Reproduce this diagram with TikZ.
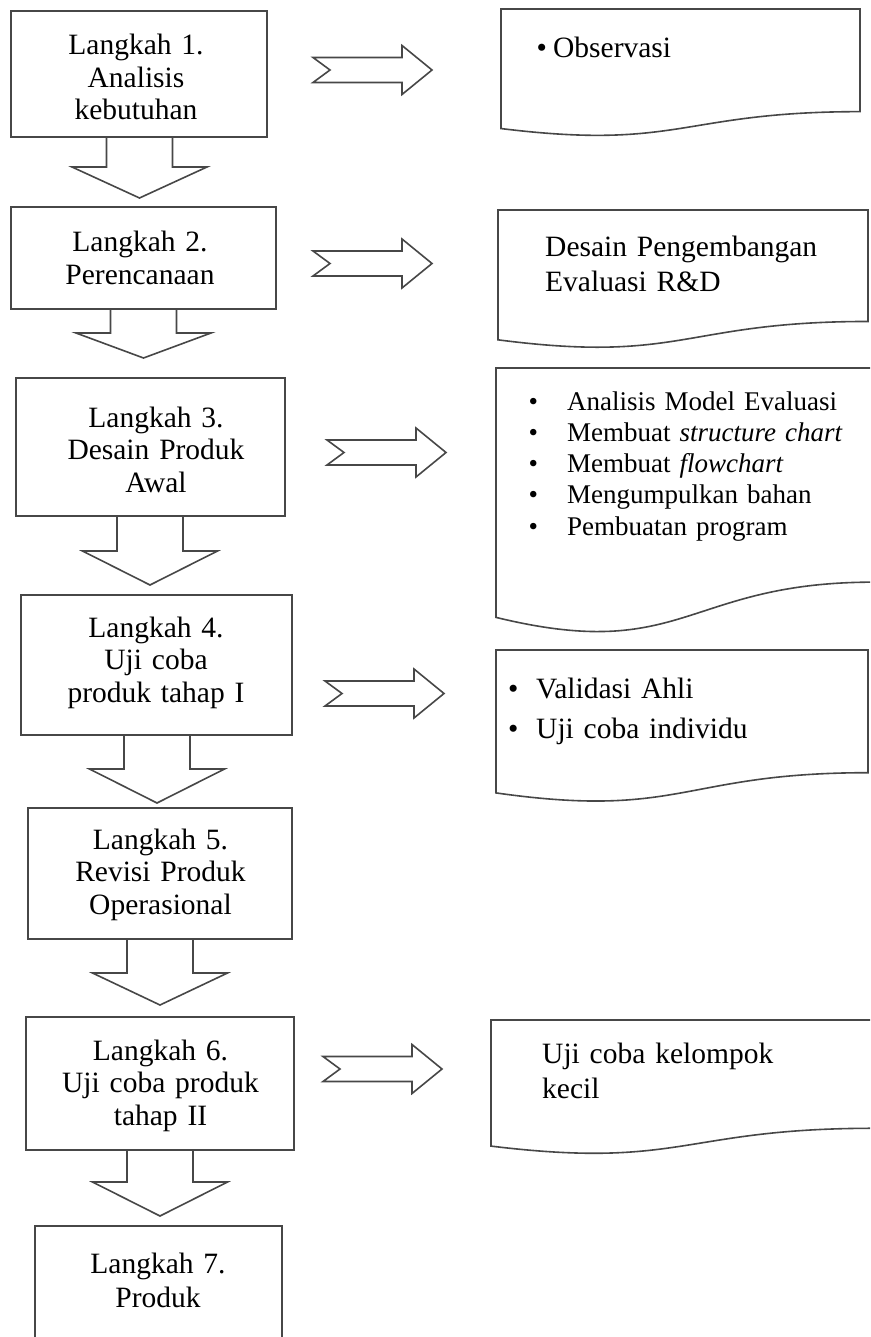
\documentclass[tikz,border=0pt]{standalone}
\usepackage{fontspec}
\setmainfont{Liberation Serif}
\usetikzlibrary{calc}
\tikzset{
  shapeline/.style={draw=black!72, line width=1.6pt, line join=miter},
  stepbox/.style={shapeline, rectangle, inner sep=0pt, outer sep=0pt},
  steptext/.style={inner sep=0pt, anchor=base, text width=260pt, align=center, text=black,
    font=\fontsize{29.5}{32.5}\selectfont},
  docframe/.style={rectangle, inner sep=0pt, outer sep=0pt},
  doctext/.style={inner sep=0pt, anchor=base west, text width=#1, align=left, text=black,
    font=\fontsize{29.5}{35}\selectfont},
  doctext/.default=330pt,
  rarrow/.pic={\draw[shapeline] (0,-12.5) -- (89,-12.5) -- (89,-24.5) -- (119,0) -- (89,24.5) -- (89,12.5) -- (0,12.5) -- (17,0) -- cycle;},
}
% #1 source node, #2 x offset of arrow centre, #3 shaft length, #4 head length
\newcommand\blockdown[4]{%
  \draw[shapeline] ($(#1.south)+(#2-33,0)$) -- ++(0,#3) -- ++(-34.5,0)
    -- ($(#1.south)+(#2,#3+#4)$) -- ($(#1.south)+(#2+67.5,#3)$) -- ++(-34.5,0)
    -- ($(#1.south)+(#2+33,0)$);}
% document shape drawn on a frame node
\newcommand\docshape[1]{%
  \draw[shapeline] (#1.north west) -- (#1.north east)
    -- ($(#1.north east)!0.802!(#1.south east)$)
    .. controls ($(#1.north)!0.802!(#1.south)$) and ($(#1.north)!1.107!(#1.south)$)
    .. ($(#1.north west)!0.934!(#1.south west)$) -- cycle;}
\begin{document}
\begin{tikzpicture}[x=1pt,y=-1pt]
\useasboundingbox (0,0) rectangle (870,1337);
\fill[white] (0,0) rectangle (870,1337);
\clip (0,0) rectangle (870,1337);

% step boxes
\node[stepbox, minimum width=256pt, minimum height=126pt] (s1) at (139,74) {};
\node[stepbox, minimum width=265pt, minimum height=102pt] (s2) at (143.5,258) {};
\node[stepbox, minimum width=269pt, minimum height=138pt] (s3) at (150.5,447) {};
\node[stepbox, minimum width=271pt, minimum height=140pt] (s4) at (156.5,665) {};
\node[stepbox, minimum width=264pt, minimum height=131pt] (s5) at (160,873.5) {};
\node[stepbox, minimum width=268pt, minimum height=133pt] (s6) at (160,1083.5) {};
\node[stepbox, minimum width=247pt, minimum height=130pt] (s7) at (158.5,1291) {};

\node[steptext] (t1) at (136,55) {Langkah 1.\\Analisis\\kebutuhan};
\node[steptext, font=\fontsize{29.5}{33}\selectfont] (t2) at (140,252) {Langkah 2.\\Perencanaan};
\node[steptext] (t3) at (156,427) {Langkah 3.\\Desain Produk\\Awal};
\node[steptext] (t4) at (156,637) {Langkah 4.\\Uji coba\\produk tahap I};
\node[steptext] (t5) at (160.5,849) {Langkah 5.\\Revisi Produk\\Operasional};
\node[steptext] (t6) at (160.5,1060) {Langkah 6.\\Uji coba produk\\tahap II};
\node[steptext, font=\fontsize{29.5}{34}\selectfont] (t7) at (158,1273) {Langkah 7.\\Produk};

% down block arrows
\blockdown{s1}{0.5}{30}{31}
\blockdown{s2}{0}{24}{25}
\blockdown{s3}{-0.5}{35}{34}
\blockdown{s4}{0.5}{34}{34}
\blockdown{s5}{0}{34}{32}
\blockdown{s6}{0}{32}{34}

% right block arrows
\pic (r1) at (313,70) {rarrow};
\pic (r2) at (313,263.5) {rarrow};
\pic (r3) at (327,452.5) {rarrow};
\pic (r4) at (325,693.5) {rarrow};
\pic (r6) at (323,1069) {rarrow};

% documents
\node[docframe, minimum width=359pt, minimum height=128pt, anchor=north west] (d1) at (501,9) {};
\node[docframe, minimum width=370pt, minimum height=139pt, anchor=north west] (d2) at (498,210) {};
\node[docframe, minimum width=378pt, minimum height=267pt, anchor=north west] (d3) at (496,368) {};
\node[docframe, minimum width=372pt, minimum height=153pt, anchor=north west] (d4) at (496,650) {};
\node[docframe, minimum width=383pt, minimum height=135pt, anchor=north west] (d6) at (491,1020) {};
\docshape{d1}
\docshape{d2}
\docshape{d3}
\docshape{d4}
\docshape{d6}

\node[doctext] (o1) at (536.5,58) {\makebox[16.5pt][l]{\textbullet}Observasi};
\node[doctext, font=\fontsize{29.5}{35}\selectfont] (o2) at (545,257) {Desain Pengembangan\\Evaluasi R\&D};
\node[doctext=345pt, font=\fontsize{27}{31.3}\selectfont] (o3) at (528.5,410) {%
  \makebox[38.5pt][l]{\textbullet}Analisis Model Evaluasi\\
  \makebox[38.5pt][l]{\textbullet}Membuat \textit{structure chart}\\
  \makebox[38.5pt][l]{\textbullet}Membuat \textit{flowchart}\\
  \makebox[38.5pt][l]{\textbullet}Mengumpulkan bahan\\
  \makebox[38.5pt][l]{\textbullet}Pembuatan program};
\node[doctext, font=\fontsize{29.5}{40}\selectfont] (o4) at (508,698) {%
  \makebox[28pt][l]{\textbullet}Validasi Ahli\\
  \makebox[28pt][l]{\textbullet}Uji coba individu};
\node[doctext] (o6) at (542,1063) {Uji coba kelompok\\kecil};
\end{tikzpicture}
\end{document}
